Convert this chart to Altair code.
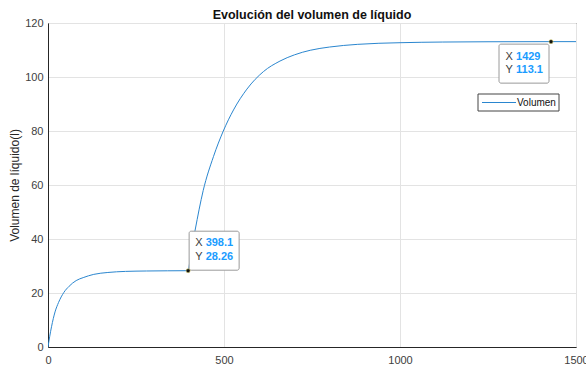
import altair as alt
import pandas as pd

# Curve
tiempo = [0, 5, 10, 20, 30, 45, 60, 80, 100, 130, 170, 220, 280, 340, 398.1,
          405, 418, 441, 470, 498, 527, 565, 612, 659, 700, 745, 800, 880,
          1000, 1120, 1250, 1429, 1500]
volumen = [0, 4.0, 7.5, 13.0, 16.5, 20.2, 22.5, 24.6, 25.7, 26.9, 27.6, 28.0,
           28.15, 28.22, 28.26, 34.0, 43.3, 58.0, 70.5, 80.0, 87.8, 95.5,
           102.0, 105.9, 108.2, 109.9, 111.1, 112.1, 112.7, 112.95, 113.05,
           113.1, 113.1]

serie = ["Volumen"]

# Data tips
tip_x = [398.1, 1429]
tip_y = [28.26, 113.1]
tip_xlabel = ["398.1", "1429"]
tip_ylabel = ["28.26", "113.1"]

x_ticks = [0, 500, 1000, 1500]
y_ticks = [0, 20, 40, 60, 80, 100, 120]

df = pd.DataFrame({"t": tiempo, "v": volumen, "serie": serie * len(tiempo)})
tips = pd.DataFrame({"t": tip_x, "v": tip_y, "xl": tip_xlabel, "yl": tip_ylabel})
leg = pd.DataFrame({"serie": serie})

FONT = "Liberation Sans"
BLUE = "#2a86cf"
VAL = "#1a9cff"

xs = alt.Scale(domain=[0, 1500], nice=False)
ys = alt.Scale(domain=[0, 120], nice=False)

base = alt.Chart(df)

line = base.mark_line(strokeWidth=1, interpolate="monotone", clip=True,
                      color=BLUE).encode(
    x=alt.X("t:Q", scale=xs,
            axis=alt.Axis(title=None, values=x_ticks, format="d", grid=True,
                          labelPadding=7, labelFlush=False)),
    y=alt.Y("v:Q", scale=ys,
            axis=alt.Axis(title="Volumen de líquido(l)", values=y_ticks,
                          format="d", grid=True, labelPadding=5,
                          titlePadding=3)),
)

def tip_layers(row, rect_dx, rect_dy, tx, ty1, ty2):
    d = tips.iloc[[row]]
    c = alt.Chart(d)
    enc = dict(x=alt.X("t:Q", scale=xs), y=alt.Y("v:Q", scale=ys))
    rect = c.mark_rect(width=50, height=39, xOffset=rect_dx, yOffset=rect_dy,
                       fill="white", stroke="#9a9a9a", strokeWidth=1,
                       cornerRadius=2).encode(**enc)
    lx = c.mark_text(text="X", align="left", baseline="middle", dx=tx, dy=ty1,
                     font=FONT, fontSize=11, color="#404040").encode(**enc)
    ly = c.mark_text(text="Y", align="left", baseline="middle", dx=tx, dy=ty2,
                     font=FONT, fontSize=11, color="#404040").encode(**enc)
    vx = c.mark_text(align="left", baseline="middle", dx=tx + 10.5, dy=ty1,
                     font=FONT, fontSize=11, fontWeight="bold", color=VAL).encode(
        text="xl:N", **enc)
    vy = c.mark_text(align="left", baseline="middle", dx=tx + 10.5, dy=ty2,
                     font=FONT, fontSize=11, fontWeight="bold", color=VAL).encode(
        text="yl:N", **enc)
    pt = c.mark_point(filled=True, size=16, color="#111111", stroke="#c8c060",
                      strokeWidth=0.6, opacity=1).encode(**enc)
    return [rect, lx, ly, vx, vy, pt]

# Legend box (drawn by hand, MATLAB style)
lc = alt.Chart(leg)
leg_box = lc.mark_rect(fill="white", stroke="#444444", strokeWidth=1).encode(
    x=alt.value(430), x2=alt.value(511), y=alt.value(71), y2=alt.value(88))
leg_line = lc.mark_rule(color=BLUE, strokeWidth=1).encode(
    x=alt.value(434), x2=alt.value(468), y=alt.value(79.5))
leg_text = lc.mark_text(align="left", baseline="middle", font=FONT,
                        fontSize=10, color="#111111").encode(
    x=alt.value(469), y=alt.value(79.5), text="serie:N")

layers = [line] + tip_layers(0, 26, -20, 7, -27.5, -13.5) + \
    tip_layers(1, -27, 22, -45.5, 15, 28.5) + [leg_box, leg_line, leg_text]

chart = alt.layer(*layers).properties(
    width=528, height=324,
    title=alt.Title("Evolución del volumen de líquido", font=FONT, fontSize=12.5,
                    fontWeight="bold", color="#111111", offset=0, dy=4),
    autosize=alt.AutoSizeParams(type="none"),
    padding={"left": 48, "top": 23, "right": 10, "bottom": 24},
).configure_view(stroke="#262626", strokeWidth=1).configure_axis(
    labelFont=FONT, labelFontSize=11, labelColor="#404040",
    titleFont=FONT, titleFontSize=12, titleColor="#262626",
    titleFontWeight="normal",
    domainColor="#262626", tickSize=0, gridColor="#e3e3e3", gridWidth=1,
).configure_axisY(labelAlign="right")

chart.save("out.html", embed_options={"renderer": "svg", "actions": False})
